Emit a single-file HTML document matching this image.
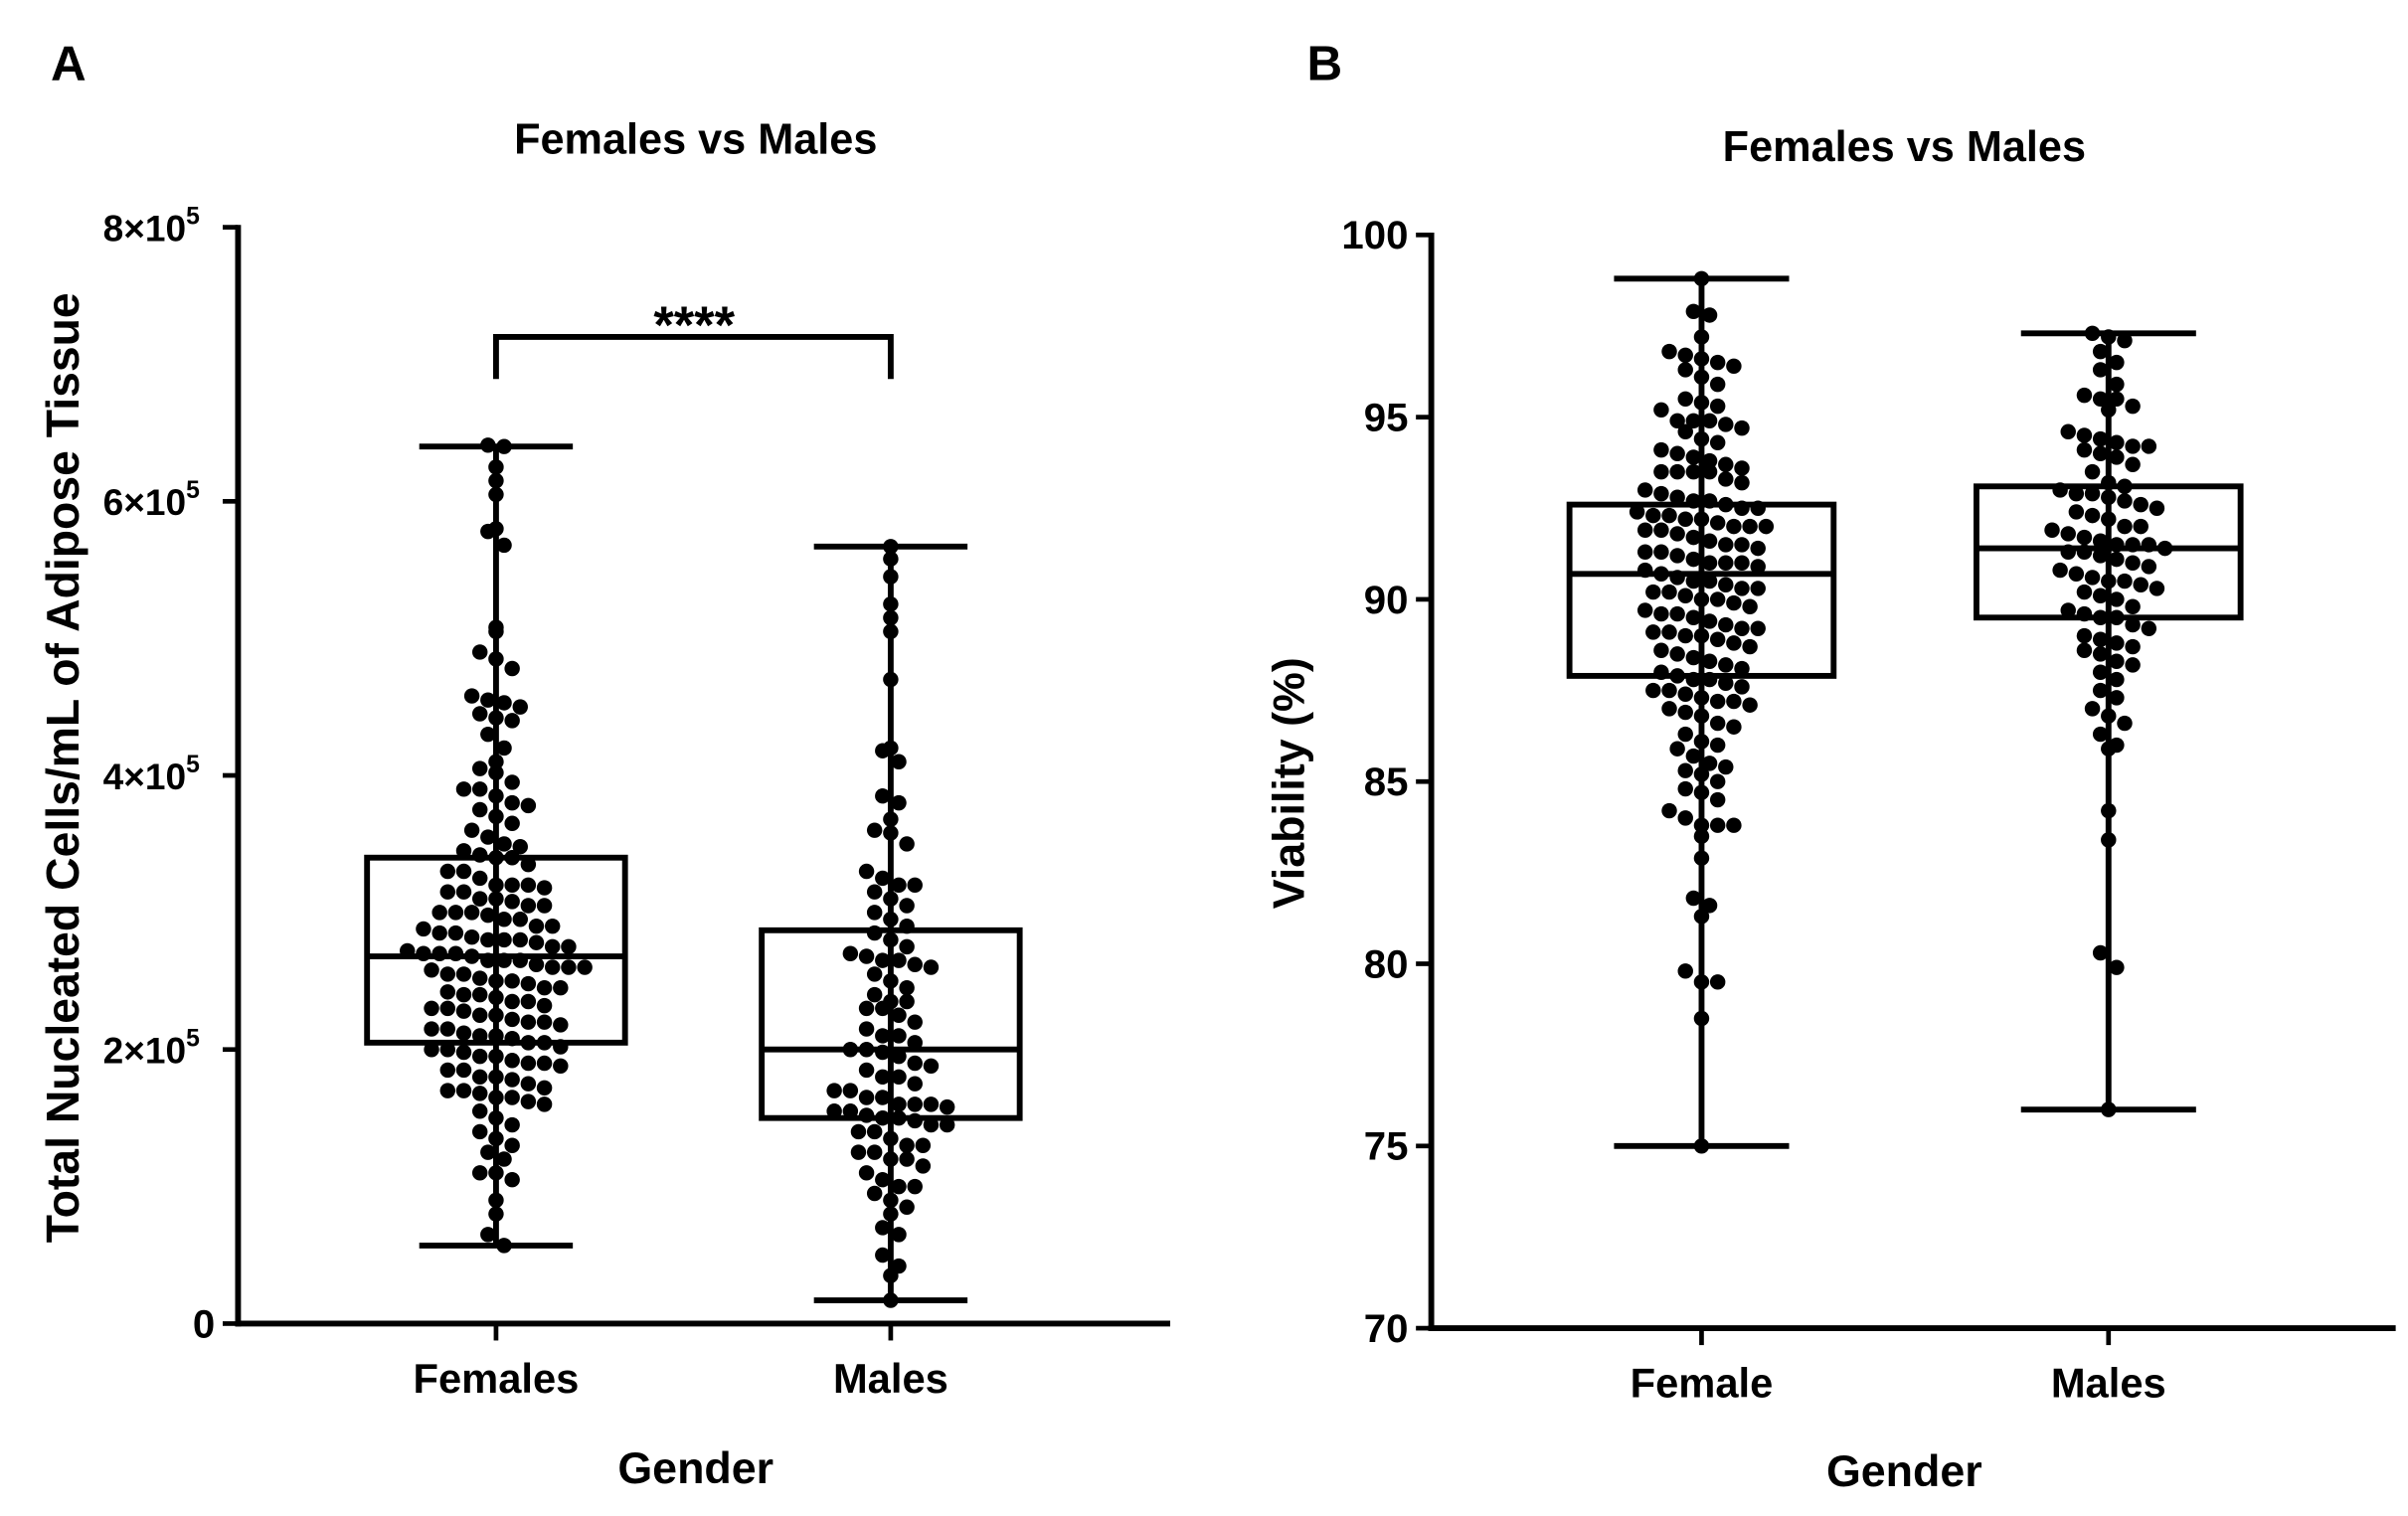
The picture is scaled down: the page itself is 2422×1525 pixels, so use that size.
<!DOCTYPE html>
<html><head><meta charset="utf-8"><style>
html,body{margin:0;padding:0;background:#fff;}
svg{display:block;font-family:"Liberation Sans",Arial,sans-serif;font-weight:bold;}
</style></head><body>
<svg id="fig" width="2422" height="1525" viewBox="0 0 1568 987.3" xmlns="http://www.w3.org/2000/svg">
<rect width="1568" height="988" fill="#fff"/>
<text x="33" y="52" font-size="32">A</text>
<text x="851" y="52" font-size="32">B</text>
<text x="453" y="100" font-size="28" text-anchor="middle">Females vs Males</text>
<text x="1240" y="105" font-size="28" text-anchor="middle">Females vs Males</text>
<text x="453" y="966" font-size="29" text-anchor="middle">Gender</text>
<text x="1240" y="968" font-size="29" text-anchor="middle">Gender</text>
<text transform="translate(51,500) rotate(-90)" font-size="30" text-anchor="middle">Total Nucleated Cells/mL of Adipose Tissue</text>
<text transform="translate(849,510) rotate(-90)" font-size="29" text-anchor="middle">Viability (%)</text>
<g id="ga"></g><g id="gb"></g>
</svg>
<script>
// Panel A data (units of 1e4 cells/mL)
const catsA = ["Females","Males"];
const femalesA = [64.1,64,62.5,61.5,60.5,58,57.8,56.8,50.8,50.5,49,48.5,47.8,45.8,45.5,45.3,45,44.5,44.2,44,43,42,41,40.5,40.2,39.5,39,39,38.5,38,37.8,37.5,37,36.5,36,35.5,35,34.8,34.5,34.2,34,34,33.5,33,33,32.5,32,32,32,31.8,31.5,31.5,31,31,30.8,30.5,30.5,30,30,30,29.8,29.5,29.5,29,29,28.8,28.5,28.5,28.2,28,28,28,27.8,27.5,27.5,27.2,27,27,27,26.8,26.5,26.5,26.5,26.2,26,26,26,25.8,25.5,25.5,25.2,25,25,24.8,24.5,24.5,24.2,24,24,23.8,23.5,23.5,23.2,23,23,22.8,22.5,22.5,22.2,22,22,21.8,21.5,21.5,21.2,21,21,20.8,20.5,20.5,20.2,20,20,19.8,19.5,19.5,19.2,19,19,18.8,18.5,18.5,18,18,17.8,17.5,17.2,17,17,16.8,16.5,16.5,16.2,16,15.5,15,14.5,14,13.5,13,12.5,12,11,11,10.5,9,8,6.5,5.7];
const malesA = [56.7,55.8,54.5,52.5,51.5,50.5,47,42,41.8,41,38.5,38,36.8,36,35.8,35,33,32.5,32,32,31.5,31,30.5,30,29.5,29,28.5,28,27.5,27,26.8,26.5,26.5,26.2,26,25.5,25,24.5,24,23.5,23.5,23,23,22.5,22,21.5,21,21,20.5,20,20,19.8,19.5,19,18.8,18.5,18,18,17.5,17,17,16.5,16.5,16,16,16,15.8,15.5,15.5,15.2,15,15,14.8,14.5,14.5,14,14,13.5,13,13,12.5,12.5,12,12,11.5,11,10.5,10,10,9.5,9,8.5,8,7,6.5,5,4.2,3.5,1.7];
// box stats: [min, q1, median, q3, max]
const boxFemalesA = [5.7,20.5,26.8,34,64];
const boxMalesA = [1.7,15,20,28.7,56.7];
const ticksA = [0,20,40,60,80];
const tickLabelsA = ["0","2×10","4×10","6×10","8×10"];
// Panel B data (viability %)
const catsB = ["Female","Males"];
const femalesB = [98.8,97.9,97.8,97.2,96.8,96.7,96.6,96.5,96.4,96.3,96.1,95.9,95.5,95.4,95.3,95.2,94.9,94.9,94.9,94.8,94.7,94.6,94.4,94.3,94.1,94,93.9,93.8,93.7,93.6,93.5,93.5,93.5,93.5,93.3,93.2,93,92.9,92.8,92.7,92.7,92.6,92.5,92.5,92.4,92.3,92.3,92.2,92.2,92.1,92,92,92,91.9,91.9,91.8,91.7,91.6,91.5,91.5,91.4,91.3,91.3,91.2,91.1,91,91,91,90.9,90.8,90.7,90.6,90.5,90.5,90.4,90.3,90.3,90.2,90.2,90.1,90,90,89.9,89.8,89.7,89.6,89.6,89.5,89.4,89.3,89.2,89.2,89.1,89.1,89,89,88.9,88.8,88.7,88.6,88.5,88.4,88.3,88.2,88.1,88,87.9,87.8,87.8,87.7,87.6,87.5,87.5,87.4,87.3,87.2,87.2,87.1,87,86.9,86.8,86.6,86.5,86.3,86.1,86,85.9,85.7,85.5,85.4,85.3,85.2,85,84.8,84.7,84.5,84.2,84,83.8,83.8,83.8,83.5,82.9,81.8,81.6,81.3,79.8,79.5,79.5,78.5,75];
const malesB = [97.3,97.2,97.1,96.8,96.5,96.3,95.9,95.6,95.5,95.5,95.3,95.2,94.6,94.5,94.4,94.3,94.2,94.2,94.1,94,93.9,93.7,93.5,93.2,93.1,93,92.9,92.9,92.8,92.7,92.6,92.5,92.4,92.3,92.2,92,92,91.9,91.8,91.7,91.6,91.5,91.5,91.5,91.4,91.3,91.3,91.2,91.1,91,90.9,90.8,90.7,90.6,90.5,90.5,90.4,90.3,90.2,90.1,90,89.8,89.7,89.6,89.5,89.5,89.3,89.2,89,88.9,88.8,88.7,88.6,88.5,88.3,88.2,88,87.8,87.5,87.3,87,86.8,86.6,86.3,86,85.9,84.2,83.4,80.3,79.9,76];
const boxFemalesB = [75,87.9,90.7,92.6,98.8];
const boxMalesB = [76,89.5,91.4,93.1,97.3];
const ticksB = [70,75,80,85,90,95,100];

const NS="http://www.w3.org/2000/svg";
function mk(parent,tag,attrs){const e=document.createElementNS(NS,tag);for(const k in attrs)e.setAttribute(k,attrs[k]);parent.appendChild(e);return e;}
const LW=3.8, R=5.0;

function drawPanel(g,cfg){
  const y=v=>cfg.y0+(v-cfg.vmin)/(cfg.vmax-cfg.vmin)*(cfg.y1-cfg.y0);
  const ya=mk(g,'line',{x1:cfg.ax,y1:cfg.y1-1.5,x2:cfg.ax,y2:cfg.y0+LW/2,stroke:'#000','stroke-width':LW});
  
  
  const xa=mk(g,'line',{x1:cfg.ax-LW/2,y1:cfg.y0,x2:cfg.axEnd,y2:cfg.y0,stroke:'#000','stroke-width':LW});
  
  
  cfg.ticks.forEach((t,i)=>{
    const ty=y(t);
    const tl=mk(g,'line',{x1:cfg.ax-10,y1:ty,x2:cfg.ax,y2:ty,stroke:'#000','stroke-width':LW*0.8});
    
    
    const tx=mk(g,'text',{x:cfg.ax-15-(cfg.sup&&i>0?10:0),y:ty+9,'font-size':26,'text-anchor':'end'});
    
    
    tx.textContent=cfg.labels[i];
    if(cfg.sup&&i>0){tx.setAttribute('font-size',24);const s=mk(tx,'tspan',{dy:-11,'font-size':16});s.textContent='5';}
  });
  cfg.cats.forEach((c,ci)=>{
    const cx=cfg.cx[ci];
    const xt=mk(g,'line',{x1:cx,y1:cfg.y0,x2:cx,y2:cfg.y0+11,stroke:'#000','stroke-width':LW*0.8});
    
    
    const lb=mk(g,'text',{x:cx,y:cfg.y0+45,'font-size':27,'text-anchor':'middle'});
    
    
    lb.textContent=c;
    const vals=cfg.series[ci].slice().sort((a,b)=>b-a);
    const binH=13;
    const bins={};
    vals.forEach(v=>{const k=Math.round(y(v)/binH);(bins[k]=bins[k]||[]).push(v);});
    Object.keys(bins).forEach(k=>{
      const arr=bins[k],n=arr.length;
      arr.forEach((v,j)=>{
        const off=(j-(n-1)/2)*2*R*1.05;
        const d=mk(g,'circle',{cx:cx+off,cy:y(v),r:R,fill:'#000'});
        
        
      });
    });
    const b=cfg.box[ci],hw=cfg.hw,cw=cfg.cw;
    const wh=mk(g,'line',{x1:cx,y1:y(b[0]),x2:cx,y2:y(b[4]),stroke:'#000','stroke-width':LW});
    
    
    [b[0],b[4]].forEach(v=>{
      const cap=mk(g,'line',{x1:cx-cw,y1:y(v),x2:cx+cw,y2:y(v),stroke:'#000','stroke-width':LW});
      
      
    });
    const rc=mk(g,'rect',{x:cx-hw,y:y(b[3]),width:2*hw,height:y(b[1])-y(b[3]),fill:'none',stroke:'#000','stroke-width':LW});
    
    
    const md=mk(g,'line',{x1:cx-hw,y1:y(b[2]),x2:cx+hw,y2:y(b[2]),stroke:'#000','stroke-width':LW});
    
    
  });
  return y;
}
const ga=document.getElementById('ga'),gb=document.getElementById('gb');
const yA=drawPanel(ga,{id:'a',ax:155,axEnd:762,y0:862,y1:148,vmin:0,vmax:80,ticks:ticksA,labels:tickLabelsA,sup:true,cats:catsA,cx:[323,580],series:[femalesA,malesA],box:[boxFemalesA,boxMalesA],hw:84,cw:50});
drawPanel(gb,{id:'b',ax:932,axEnd:1560,y0:865,y1:153,vmin:70,vmax:100,ticks:ticksB,labels:ticksB.map(String),sup:false,cats:catsB,cx:[1108,1373],series:[femalesB,malesB],box:[boxFemalesB,boxMalesB],hw:86,cw:57});
const bk=mk(ga,'polyline',{points:`323,${yA(70.5)+14} 323,${yA(72)} 580,${yA(72)} 580,${yA(70.5)+14}`,fill:'none',stroke:'#000','stroke-width':LW});


const st=mk(ga,'text',{x:452,y:yA(72)+4,'font-size':34,'text-anchor':'middle'});


st.textContent='****';
</script>
</body></html>
